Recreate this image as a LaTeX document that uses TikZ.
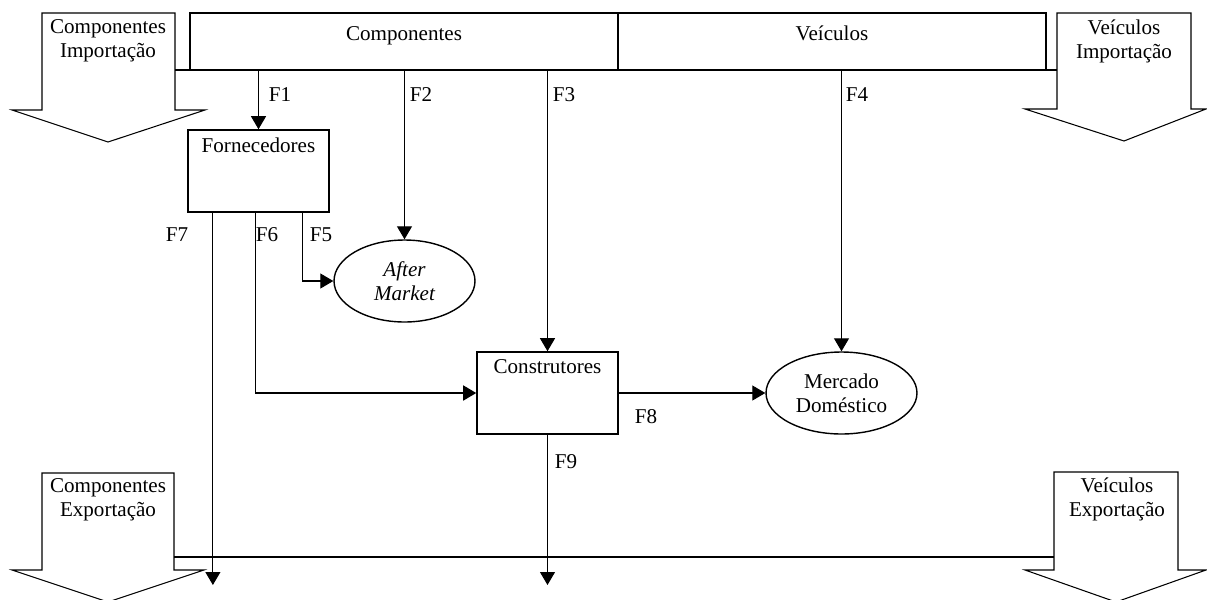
\documentclass[tikz,border=0pt]{standalone}
\usepackage{fontspec}
\setmainfont{Liberation Serif}
\usetikzlibrary{shapes.geometric, arrows.meta, calc}

\begin{document}
\begin{tikzpicture}[
  x=0.02cm, y=-0.02cm,
  font=\fontsize{12}{13.6}\selectfont,
  band/.style={rectangle, draw, fill=white, line width=0.9pt, minimum width=8.56cm,
               minimum height=1.14cm, text depth=0.33cm},
  box/.style={rectangle, draw, line width=0.9pt, minimum width=2.82cm,
              minimum height=1.64cm, text depth=1.05cm, inner ysep=4pt},
  market/.style={ellipse, draw, line width=0.8pt, minimum height=1.64cm,
                 align=center, inner sep=1pt},
  bigarrow/.style={draw, line width=0.6pt, fill=white},
  flow/.style={-{Triangle[length=0.26cm, width=0.3cm]}, line width=0.6pt},
  tag/.style={align=center}
]
\useasboundingbox (0,0) rectangle (1207,599);

%% Import / export block arrows
\draw[bigarrow] (42,13) -- (175,13) -- (175,110) -- (205,110) -- (108,142) -- (12,110) -- (42,110) -- cycle;
\draw[bigarrow] (1057,13) -- (1191,13) -- (1191,109) -- (1206,109) -- (1124,141) -- (1025,109) -- (1057,109) -- cycle;
\draw[bigarrow] (42,473) -- (174,473) -- (174,570) -- (204,570) -- (108,602) -- (12,570) -- (42,570) -- cycle;
\draw[bigarrow] (1054,472) -- (1178,472) -- (1178,570) -- (1206,570) -- (1116,602) -- (1025,570) -- (1054,570) -- cycle;

\node[tag] (compImp) at (108,41)   {Componentes\\Importação};
\node[tag] (veicImp) at (1124,41)  {Veículos\\Importação};
\node[tag] (compExp) at (108,500)  {Componentes\\Exportação};
\node[tag] (veicExp) at (1117,499) {Veículos\\Exportação};

%% Top band and bottom line
\draw[line width=0.9pt] (175,70) -- (1057,70);
\draw[line width=0.9pt] (174,557) -- (1054,557);
\node[band] (comp) at (404,41.5) {Componentes};
\node[band] (veic) at (832,41.5) {Veículos};

%% Agents and markets
\node[box] (forn)   at (258.5,171) {Fornecedores};
\node[box] (constr) at (547.5,393) {Construtores};
\node[market, minimum width=2.82cm, font=\fontsize{12}{13.6}\selectfont\itshape] (after) at (404.5,281) {After\\Market};
\node[market, minimum width=3.02cm] (merc) at (841.5,393) {Mercado\\Doméstico};

%% Flows
\coordinate (exportEnd) at (0,585);
\draw[flow] (forn.north |- comp.south) -- (forn.north);
\draw[flow] (after.north |- comp.south) -- (after.north);
\draw[flow] (constr.north |- comp.south) -- (constr.north);
\draw[flow] (merc.north |- veic.south) -- (merc.north);
\draw[flow] ($(forn.south west)!0.81!(forn.south east)$) |- (after.west);
\draw[flow, line width=0.9pt] ($(forn.south west)!0.48!(forn.south east)$) |- (constr.west);
\coordinate (f7start) at ($(forn.south west)!0.18!(forn.south east)$);
\draw[flow] (f7start) -- (f7start |- exportEnd);
\draw[flow] (constr.east) -- (merc.west);
\draw[flow] (constr.south) -- (constr.south |- exportEnd);

%% Flow labels
\node (lblF1) at (280,95)  {F1};
\node (lblF2) at (421,95)  {F2};
\node (lblF3) at (564,95)  {F3};
\node (lblF4) at (857,95)  {F4};
\node (lblF5) at (321,235) {F5};
\node (lblF6) at (267,235) {F6};
\node (lblF7) at (177,235) {F7};
\node (lblF8) at (646,417) {F8};
\node (lblF9) at (566,462) {F9};
\end{tikzpicture}
\end{document}
